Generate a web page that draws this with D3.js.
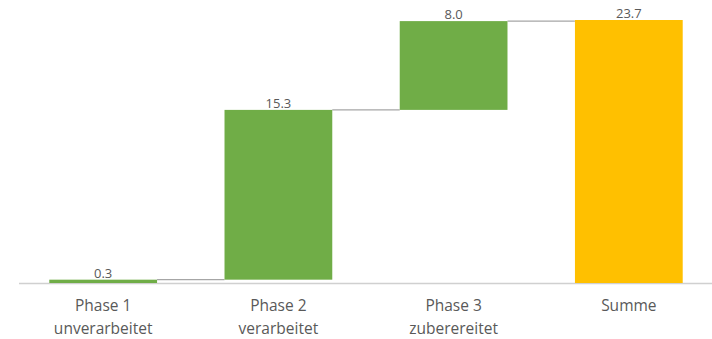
<!DOCTYPE html>
<html>
<head>
<meta charset="utf-8">
<script src="https://cdn.jsdelivr.net/npm/d3@7"></script>
<style>
  body { margin: 0; background: #fff; }
  text { font-family: "Open Sans", "Noto Sans", sans-serif; fill: #595959; }
</style>
</head>
<body>
<script>
// categories (two label lines each) and the step values
const categories = ['Phase 1', 'Phase 2', 'Phase 3', 'Summe']
const subLabels = ['unverarbeitet', 'verarbeitet', 'zuberereitet', '']
const values = [0.3, 15.3, 8.0, 23.7]
const isTotal = [false, false, false, true]

const w = 712
const h = 339
const baseY = 283

// build start/end for each bar of the waterfall
let running = 0
const bars = categories.map((c, i) => {
  let start, end
  if (isTotal[i]) {
    start = 0
    end = values[i]
  } else {
    start = running
    end = running + values[i]
    running = end
  }
  return { cat: c, sub: subLabels[i], value: values[i], start: start, end: end, total: isTotal[i] }
})

const x = d3.scaleBand()
  .domain(categories)
  .range([16, 716])
  .paddingInner(0.385)
  .paddingOuter(0.19)

const y = d3.scaleLinear()
  .domain([0, 23.7])
  .range([baseY, 20])

const svg = d3.select('body')
  .append('svg')
  .attr('width', w)
  .attr('height', h)

// axis line
svg.append('line')
  .attr('x1', 19)
  .attr('x2', w)
  .attr('y1', baseY + 0.5)
  .attr('y2', baseY + 0.5)
  .attr('stroke', '#d0d0d0')
  .attr('stroke-width', 1.5)

// connectors between bars
bars.slice(0, -1).forEach((b, i) => {
  const next = bars[i + 1]
  svg.append('line')
    .attr('x1', x(b.cat) + x.bandwidth())
    .attr('x2', x(next.cat))
    .attr('y1', y(b.end))
    .attr('y2', y(b.end))
    .attr('stroke', '#a6a6a6')
    .attr('stroke-width', 1.2)
})

// bars
svg.selectAll('rect.bar')
  .data(bars)
  .enter()
  .append('rect')
  .attr('class', 'bar')
  .attr('x', d => x(d.cat))
  .attr('width', x.bandwidth())
  .attr('y', d => y(d.end))
  .attr('height', d => Math.max(2, y(d.start) - y(d.end)))
  .attr('fill', d => d.total ? '#ffc000' : '#70ad47')

// value labels
svg.selectAll('text.val')
  .data(bars)
  .enter()
  .append('text')
  .attr('class', 'val')
  .attr('x', d => x(d.cat) + x.bandwidth() / 2)
  .attr('y', d => y(d.end) - 2)
  .attr('text-anchor', 'middle')
  .style('font-size', '13px')
  .text(d => d.value.toFixed(1))

// category labels
const catG = svg.selectAll('g.cat')
  .data(bars)
  .enter()
  .append('g')
  .attr('class', 'cat')
  .attr('transform', d => `translate(${x(d.cat) + x.bandwidth() / 2},0)`)

catG.append('text')
  .attr('y', 311)
  .attr('text-anchor', 'middle')
  .style('font-size', '15.5px')
  .text(d => d.cat)

catG.append('text')
  .attr('y', 334)
  .attr('text-anchor', 'middle')
  .style('font-size', '15.5px')
  .text(d => d.sub)
</script>
</body>
</html>
